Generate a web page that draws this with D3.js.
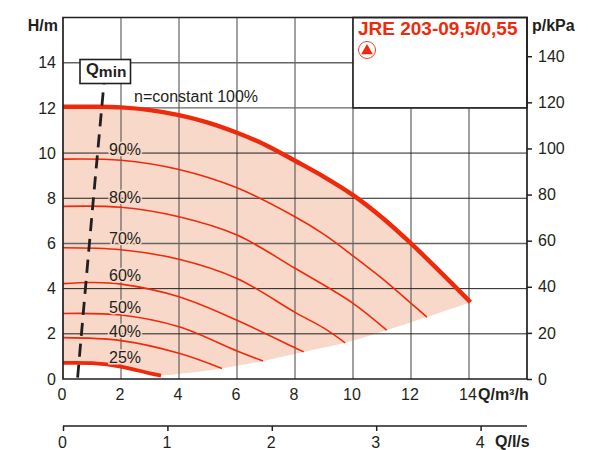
<!DOCTYPE html>
<html><head><meta charset="utf-8">
<script src="https://cdn.jsdelivr.net/npm/d3@7"></script>
<style>html,body{margin:0;padding:0;background:#fff}svg{display:block}text{font-family:"Liberation Sans",Arial,sans-serif}</style>
</head><body><div id="c"></div>
<script>
const qTicks=[0,2,4,6,8,10,12,14];
const hTicks=[0,2,4,6,8,10,12,14];
const pTicks=[0,20,40,60,80,100,120,140];
const lsTicks=[0,1,2,3,4];
const curve100=[[0,12.05],[1,12.05],[2,12.02],[3,11.9],[4,11.68],[5,11.35],[6,10.9],[7,10.35],[8,9.66],[9,8.95],[10,8.14],[11,7.15],[12,6.0],[13,4.75],[14.05,3.4]];
const curve90=[[0,9.73],[2,9.68],[4,9.27],[6,8.46],[8,7.18],[9,6.4],[10,5.45],[11,4.45],[12,3.35],[12.55,2.74]];
const curve80=[[0,7.64],[2,7.6],[4,7.18],[6,6.37],[8,4.9],[10,3.35],[11.16,2.16]];
const curve70=[[0,5.81],[2,5.72],[4,5.3],[6,4.45],[8,2.95],[9,2.25],[9.73,1.6]];
const curve60=[[0,4.22],[1,4.27],[2,4.2],[4,3.64],[6,2.6],[8,1.38],[8.3,1.2]];
const curve50=[[0,2.9],[2,2.83],[4,2.31],[6,1.24],[6.9,0.8]];
const curve40=[[0,1.83],[2,1.7],[4,1.14],[5.48,0.47]];
const curve25=[[0,0.71],[1,0.7],[2,0.55],[3,0.25],[3.38,0.15]];
const lowerEdge=[[3.38,0.15],[4.5,0.3],[5.48,0.47],[6.9,0.8],[8.3,1.2],[9.73,1.6],[11.16,2.16],[12.55,2.74],[14.05,3.4]];
const qminLine=[[1.45,13.6],[0.98,7],[0.5,0]];
const thinCurves=[curve90,curve80,curve70,curve60,curve50,curve40];
const pctLabels=["90%","80%","70%","60%","50%","40%","25%"];
const pctH=[10.13,8.03,6.18,4.56,3.13,2.07,0.94];

const W=589,H=450,RED="#ee2a0c",INK="#231f20",FONT='"Liberation Sans",Arial,sans-serif';
const x=d3.scaleLinear().domain([0,16]).range([63,527]);
const y=d3.scaleLinear().domain([0,16]).range([379,17.5]);
const yp=d3.scaleLinear().domain([0,156.8]).range([379,17.5]);
const xl=d3.scaleLinear().domain([0,16/3.6]).range([63,527]);
const svg=d3.select("#c").append("svg").attr("width",W).attr("height",H);
const sm=d3.line().x(d=>x(d[0])).y(d=>y(d[1])).curve(d3.curveCatmullRom);

// fill
const area=sm(curve100)+"L"+sm(lowerEdge.slice().reverse()).slice(1)+"L"+sm(curve25.slice().reverse()).slice(1)+"Z";
svg.append("path").attr("d",area).attr("fill","#f8d8c8");

// grid
svg.selectAll("line.v").data(qTicks.slice(1)).enter().append("line")
 .attr("x1",d=>x(d)).attr("x2",d=>x(d)).attr("y1",y(16)).attr("y2",y(0))
 .attr("stroke",d=>d<=8?"#555":"#777").attr("stroke-width",d=>d<=8?1.1:1.4);
svg.selectAll("line.h").data(hTicks.slice(1)).enter().append("line")
 .attr("x1",x(0)).attr("x2",x(16)).attr("y1",d=>y(d)).attr("y2",d=>y(d))
 .attr("stroke",d=>(d==12||d==14||d==6)?"#666":"#222").attr("stroke-width",d=>(d==12||d==14||d==6)?1.4:1);

// title box
svg.append("rect").attr("x",x(10)).attr("y",y(16)).attr("width",x(16)-x(10)).attr("height",y(12)-y(16))
 .attr("fill","#fff").attr("stroke",INK).attr("stroke-width",1.6);

// curves
svg.selectAll("path.thin").data(thinCurves).enter().append("path")
 .attr("d",sm).attr("fill","none").attr("stroke",RED).attr("stroke-width",1.6);
svg.append("path").attr("d",sm(curve100)).attr("fill","none").attr("stroke",RED).attr("stroke-width",4.4);
svg.append("path").attr("d",sm(curve25)).attr("fill","none").attr("stroke",RED).attr("stroke-width",3.8);

// Qmin
svg.append("path").attr("d",sm(qminLine)).attr("fill","none").attr("stroke",INK).attr("stroke-width",2.8).attr("stroke-dasharray","13 8");
svg.append("rect").attr("x",80).attr("y",59.5).attr("width",50.5).attr("height",24).attr("fill","#fff").attr("stroke",INK).attr("stroke-width",1.6);
const qm=svg.append("text").attr("x",86).attr("y",75).attr("fill",INK).attr("font-weight",700).attr("font-size",16.5);
qm.append("tspan").text("Q");
qm.append("tspan").attr("font-size",15.5).attr("dy",1.5).text("min");

// frame
svg.append("path").attr("d",`M${x(0)},${y(0)}V${y(16)}H${x(16)}V${y(0)}Z`).attr("fill","none").attr("stroke",INK).attr("stroke-width",1.7);

const tickFont=g=>g.call(s=>s.select(".domain").remove()).selectAll("text").attr("fill",INK).attr("font-size",16).attr("font-family",FONT);
svg.append("g").attr("transform",`translate(${x(0)},0)`).call(d3.axisLeft(y).tickValues(hTicks).tickSize(0).tickPadding(7)).call(tickFont);
svg.append("g").attr("transform",`translate(-1.5,${y(0)})`).call(d3.axisBottom(x).tickValues(qTicks).tickSize(0).tickPadding(9.5)).call(tickFont);
const rg=svg.append("g").attr("transform",`translate(${x(16)},0)`).call(d3.axisRight(yp).tickValues(pTicks).tickSize(5).tickPadding(6)).call(tickFont);
rg.selectAll("line").attr("stroke",INK).attr("stroke-width",1.5);
const lg=svg.append("g").attr("transform","translate(0,426)").call(d3.axisBottom(xl).tickValues(lsTicks).tickFormat(d3.format("d")).tickSize(5).tickPadding(6));
lg.select(".domain").remove();
lg.selectAll("line").attr("stroke",INK).attr("stroke-width",1.5);
lg.selectAll("text").attr("fill",INK).attr("font-size",16).attr("font-family",FONT).attr("dx",-1);
svg.append("line").attr("x1",63).attr("x2",527).attr("y1",426).attr("y2",426).attr("stroke",INK).attr("stroke-width",1.7);

// percent labels
svg.selectAll("text.pct").data(pctLabels).enter().append("text").attr("class","pct")
 .attr("x",109).attr("y",(d,i)=>y(pctH[i])+5).text(d=>d)
 .attr("font-size",16).attr("fill",INK).attr("stroke","#f8d8c8").attr("stroke-width",3).attr("paint-order","stroke");

// texts
const T=(t,xx,yy,o={})=>svg.append("text").attr("x",xx).attr("y",yy).text(t).attr("fill",o.c||INK).attr("font-size",o.s||15).attr("font-weight",o.b?700:400).attr("text-anchor",o.a||"start");
T("n=constant 100%",134,102,{s:16});
T("H/m",58,31,{s:16,b:1,a:"end"});
T("p/kPa",532,31,{s:16,b:1});
T("Q/m³/h",478,400,{s:16,b:1});
T("Q/l/s",495,447,{s:16,b:1});
T("JRE 203-09,5/0,55",358,35,{s:19,b:1,c:RED});
svg.append("circle").attr("cx",367).attr("cy",50).attr("r",8.5).attr("fill","#fff").attr("stroke",RED).attr("stroke-width",.9);
svg.append("path").attr("d",d3.symbol(d3.symbolTriangle,60)()).attr("transform","translate(367,50.8)").attr("fill",RED);
</script></body></html>
